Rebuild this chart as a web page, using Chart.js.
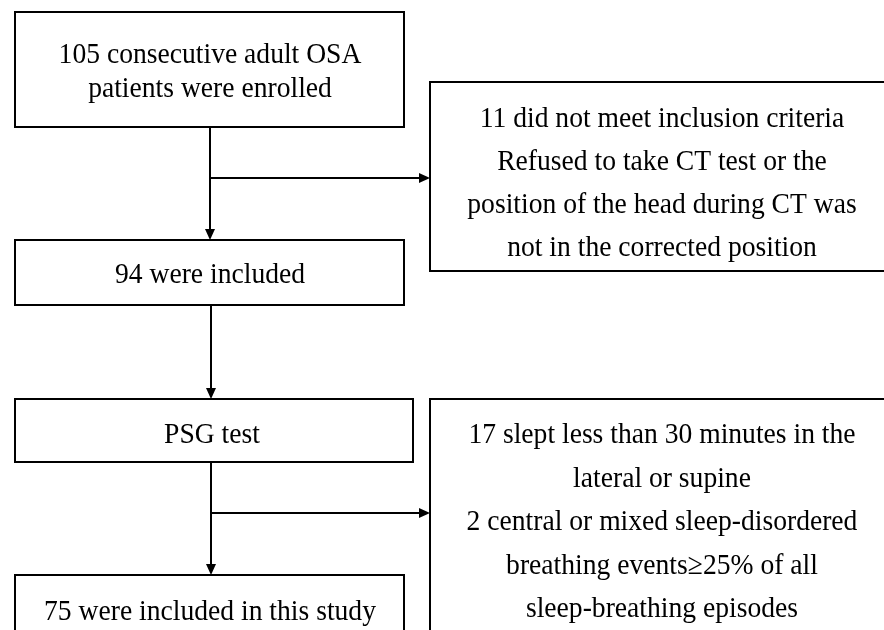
<!DOCTYPE html>
<html>
<head>
<meta charset="utf-8">
<script src="https://cdn.jsdelivr.net/npm/chart.js@4.4.1/dist/chart.umd.min.js"></script>
<style>
  html, body { margin: 0; padding: 0; background: #fff; }
  #wrap { width: 884px; height: 630px; }
</style>
</head>
<body>
<div id="wrap"><canvas id="canvas"></canvas></div>
<script>
// flow steps (text of each box)
const stepNames = ['enrolled', 'excludedCT', 'included', 'psg', 'excludedPSG', 'final'];
const stepLines = [
  ['105 consecutive adult OSA', 'patients were enrolled'],
  ['11 did not meet inclusion criteria', 'Refused to take CT test or the', 'position of the head during CT was', 'not in the corrected position'],
  ['94 were included'],
  ['PSG test'],
  ['17 slept less than 30 minutes in the', 'lateral or supine', '2 central or mixed sleep-disordered', 'breathing events\u226525% of all', 'sleep-breathing episodes'],
  ['75 were included in this study']
];
const patientCounts = [105, 11, 94, 94, 19, 75];

// where each box sits, in chart units (x 0..884, y 0..630 from top)
const layout = {
  enrolled:    { x0: 15,  x1: 404, y0: 12,  y1: 127, tx: 210, ty: 63,  lh: 34 },
  excludedCT:  { x0: 430, x1: 900, y0: 82,  y1: 271, tx: 662, ty: 127, lh: 43 },
  included:    { x0: 15,  x1: 404, y0: 240, y1: 305, tx: 210, ty: 283, lh: 0 },
  psg:         { x0: 15,  x1: 413, y0: 399, y1: 462, tx: 212, ty: 443, lh: 0 },
  excludedPSG: { x0: 430, x1: 900, y0: 399, y1: 660, tx: 662, ty: 443, lh: 43.5 },
  final:       { x0: 15,  x1: 404, y0: 575, y1: 660, tx: 210, ty: 620, lh: 0 }
};
// connectors between boxes
const links = [
  { x: 210, y0: 127, y1: 240, branchY: 178, branchX: 430 },
  { x: 211, y0: 305, y1: 399 },
  { x: 211, y0: 462, y1: 575, branchY: 513, branchX: 430 }
];

const flowPlugin = {
  id: 'flow',
  afterDraw(chart) {
    const ctx = chart.ctx;
    const sx = chart.scales.x, sy = chart.scales.y;
    const X = v => sx.getPixelForValue(v);
    const Y = v => sy.getPixelForValue(v);
    ctx.save();
    ctx.strokeStyle = '#000';
    ctx.fillStyle = '#000';
    ctx.lineWidth = 2;

    stepNames.forEach((name, i) => {
      const b = layout[name];
      ctx.strokeRect(X(b.x0), Y(b.y0), X(b.x1) - X(b.x0), Y(b.y1) - Y(b.y0));
      ctx.font = '30px "Liberation Serif", "Times New Roman", serif';
      ctx.textAlign = 'center';
      ctx.textBaseline = 'alphabetic';
      stepLines[i].forEach((line, k) => {
        // the source font is a bit condensed
        ctx.save();
        ctx.translate(X(b.tx), Y(b.ty + k * b.lh));
        ctx.scale(0.92, 1);
        ctx.fillText(line, 0, 0);
        ctx.restore();
      });
    });

    function arrowDown(x, y) {
      ctx.beginPath();
      ctx.moveTo(x, y);
      ctx.lineTo(x - 5, y - 11);
      ctx.lineTo(x + 5, y - 11);
      ctx.closePath();
      ctx.fill();
    }
    function arrowRight(x, y) {
      ctx.beginPath();
      ctx.moveTo(x, y);
      ctx.lineTo(x - 11, y - 5);
      ctx.lineTo(x - 11, y + 5);
      ctx.closePath();
      ctx.fill();
    }

    links.forEach(l => {
      ctx.beginPath();
      ctx.moveTo(X(l.x), Y(l.y0));
      ctx.lineTo(X(l.x), Y(l.y1) - 8);
      ctx.stroke();
      arrowDown(X(l.x), Y(l.y1));
      if (l.branchY) {
        ctx.beginPath();
        ctx.moveTo(X(l.x), Y(l.branchY));
        ctx.lineTo(X(l.branchX) - 8, Y(l.branchY));
        ctx.stroke();
        arrowRight(X(l.branchX), Y(l.branchY));
      }
    });
    ctx.restore();
  }
};

new Chart(document.getElementById('canvas'), {
  type: 'scatter',
  data: {
    labels: stepNames,
    datasets: [{
      label: 'patients',
      data: stepNames.map((n, i) => ({ x: layout[n].tx, y: layout[n].ty, n: patientCounts[i] })),
      pointRadius: 0,
      showLine: false
    }]
  },
  options: {
    responsive: true,
    maintainAspectRatio: false,
    animation: false,
    layout: { padding: 0 },
    scales: {
      x: { type: 'linear', min: 0, max: 884, display: false },
      y: { type: 'linear', min: 0, max: 630, reverse: true, display: false }
    },
    plugins: { legend: { display: false }, tooltip: { enabled: false } },
    events: []
  },
  plugins: [flowPlugin]
});
</script>
</body>
</html>
